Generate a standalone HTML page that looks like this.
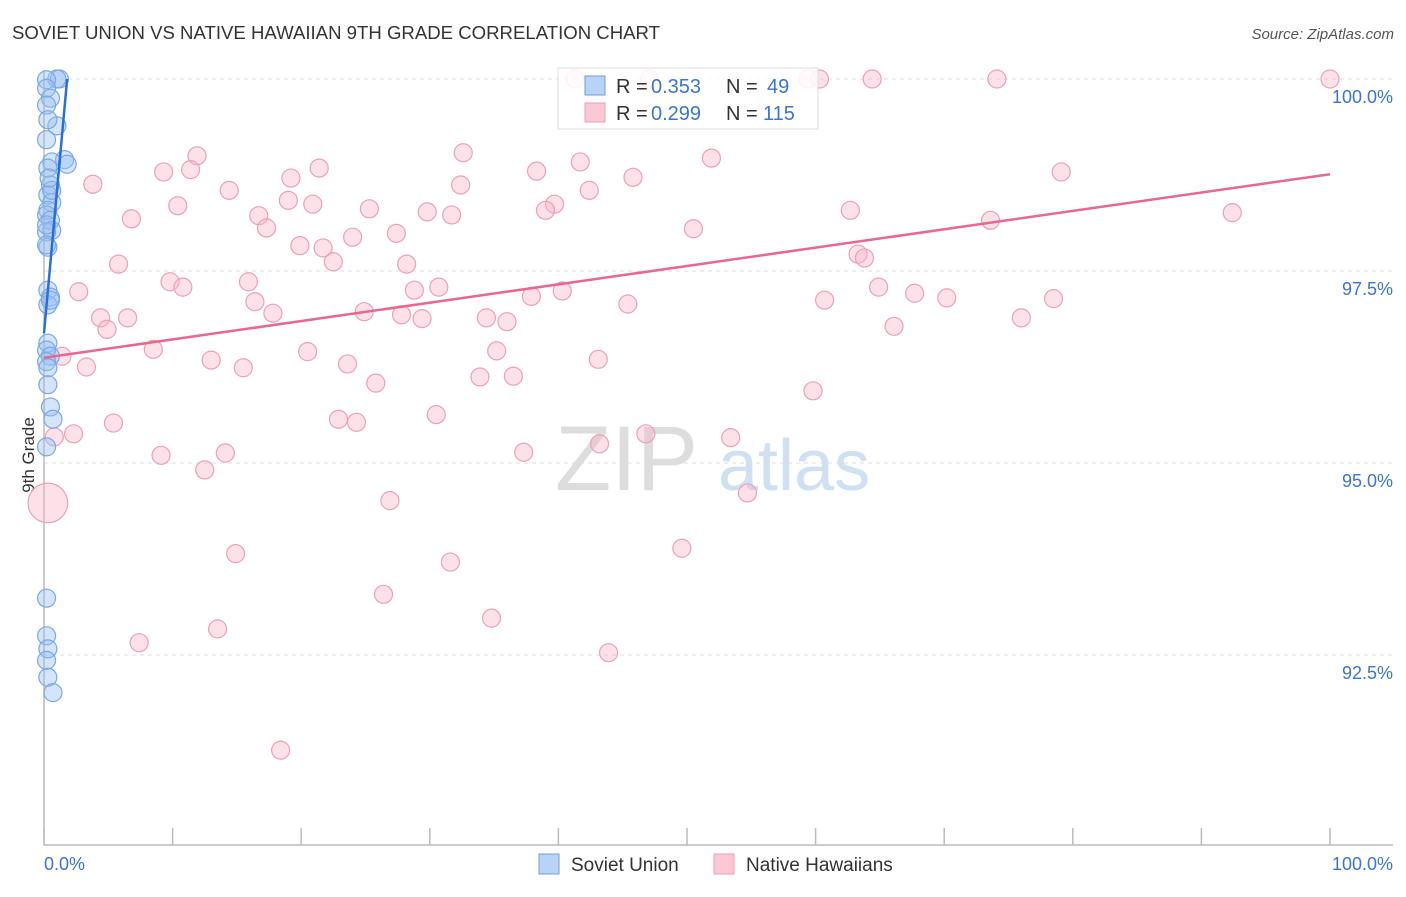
<!DOCTYPE html>
<html><head><meta charset="utf-8"><style>
body{margin:0;background:#fff;font-family:"Liberation Sans",sans-serif;}
svg text{font-family:"Liberation Sans",sans-serif;}
</style></head><body>
<svg id="chart" width="1406" height="892" xmlns="http://www.w3.org/2000/svg">
<text x="12" y="39" font-size="18" fill="#333" textLength="648" lengthAdjust="spacingAndGlyphs">SOVIET UNION VS NATIVE HAWAIIAN 9TH GRADE CORRELATION CHART</text>
<text x="1394" y="39" font-size="15" fill="#555" text-anchor="end" font-style="italic">Source: ZipAtlas.com</text>
<text transform="translate(34,455) rotate(-90)" font-size="17" fill="#333" text-anchor="middle">9th Grade</text>
<g><text x="555" y="490" font-size="92" fill="#ddd" font-family="Liberation Serif">ZIP</text><text x="718" y="490" font-size="72" fill="#cfe0f3">atlas</text></g>
<g id="grid"></g><g id="axes"></g><g id="pink"></g><g id="blue"></g><g id="lines"></g>
<g>
<rect x="558" y="68" width="260" height="61" fill="rgba(255,255,255,0.85)" stroke="#ddd"/>
<rect x="585" y="76" width="20" height="19" fill="#b8d3f5" stroke="#6a9ee0"/>
<text x="616" y="93" font-size="20" fill="#333">R =</text><text x="651" y="93" font-size="20" fill="#3a75d0">0.353</text>
<text x="726" y="93" font-size="20" fill="#333">N =</text><text x="767" y="93" font-size="20" fill="#3a75d0">49</text>
<rect x="585" y="103" width="20" height="19" fill="#fbc8d6" stroke="#eba0b8"/>
<text x="616" y="120" font-size="20" fill="#333">R =</text><text x="651" y="120" font-size="20" fill="#3a75d0">0.299</text>
<text x="726" y="120" font-size="20" fill="#333">N =</text><text x="763" y="120" font-size="20" fill="#3a75d0">115</text>
</g>
<g>
<rect x="539" y="854" width="20" height="20" fill="#b8d3f5" stroke="#6a9ee0"/><text x="571" y="871" font-size="19" fill="#333">Soviet Union</text>
<rect x="714" y="854" width="20" height="20" fill="#fbc8d6" stroke="#eba0b8"/><text x="746" y="871" font-size="19" fill="#333">Native Hawaiians</text>
</g>
</svg>
<script>
const yTicks=[100,97.5,95,92.5];
const yTickLabels=["100.0%","97.5%","95.0%","92.5%"];
const xTickLabels=["0.0%","100.0%"];
const pinkX=[41.3,47.1,59.4,60.3,64.4,74.1,100,11.9,32.6,51.9,41.7,21.4,9.3,11.4,38.3,79.1,3.8,19.2,32.4,45.8,14.4,42.4,19.0,10.4,20.9,39.7,25.3,29.8,39.0,31.7,62.7,92.4,6.8,16.7,17.3,27.4,50.5,73.6,24.0,19.9,21.7,22.5,63.3,63.8,5.8,28.2,9.8,15.9,10.8,2.7,28.8,30.7,64.9,40.3,37.9,67.7,70.2,78.5,16.4,60.7,45.4,24.9,17.8,4.4,6.5,27.8,29.4,34.4,36.0,4.9,66.1,76.0,8.5,20.5,35.2,1.4,43.1,3.3,13.0,15.5,23.6,25.8,33.9,36.5,59.8,30.5,5.4,22.9,24.3,0.8,2.3,37.3,43.2,46.8,53.4,9.1,14.1,12.5,54.7,26.9,14.9,31.6,49.6,26.4,13.5,7.4,34.8,43.9,18.4,0.3];
const pinkY=[100,100,100,100,100,100,100,99.0,99.04,98.97,98.92,98.84,98.79,98.82,98.80,98.79,98.63,98.71,98.62,98.72,98.55,98.55,98.42,98.35,98.37,98.37,98.31,98.27,98.29,98.23,98.29,98.26,98.18,98.22,98.06,97.99,98.05,98.16,97.94,97.83,97.80,97.62,97.72,97.67,97.59,97.59,97.36,97.36,97.29,97.23,97.25,97.29,97.29,97.24,97.17,97.21,97.15,97.14,97.10,97.12,97.07,96.97,96.95,96.89,96.89,96.93,96.88,96.89,96.84,96.74,96.78,96.89,96.48,96.45,96.46,96.39,96.35,96.25,96.34,96.24,96.29,96.04,96.12,96.13,95.94,95.63,95.52,95.57,95.53,95.34,95.38,95.14,95.25,95.38,95.33,95.10,95.13,94.91,94.61,94.51,93.82,93.71,93.89,93.29,92.84,92.66,92.98,92.53,91.26,94.48];
const pinkSize=pinkX.map((v,i)=>i===pinkX.length-1?2.2:1);
const blueX=[1.2,1.0,0.2,0.2,0.5,0.2,1.0,0.3,0.2,1.6,1.8,0.6,0.3,0.5,0.3,0.6,0.3,0.2,0.5,0.6,0.2,0.3,0.2,0.3,0.5,0.3,0.3,0.2,0.5,0.2,0.3,0.5,0.7,0.2,0.2,0.2,0.3,0.2,0.3,0.7,0.6,0.4,0.2,0.5,0.3];
const blueY=[100,100,99.99,99.88,99.75,99.66,99.39,99.47,99.21,98.95,98.89,98.92,98.84,98.62,98.49,98.39,98.29,98.23,98.16,98.03,98.01,97.81,97.84,97.25,97.16,97.06,96.56,96.47,96.39,96.32,96.24,95.73,95.57,95.21,93.24,92.75,92.58,92.43,92.21,92.01,98.55,98.71,98.10,97.12,96.02];
const blueTrend=[[0,96.69],[1.8,100]];
const pinkTrend=[[0,96.37],[100,98.76]];
const NS="http://www.w3.org/2000/svg";
const X=v=>44+v*12.86, Y=v=>79+(100-v)*76.8;
function mk(tag,attrs,parent){const e=document.createElementNS(NS,tag);for(const k in attrs)e.setAttribute(k,attrs[k]);document.getElementById(parent).appendChild(e);return e;}
yTicks.forEach((t,i)=>{
 const l=mk('line',{x1:44,x2:1393,y1:Y(t),y2:Y(t),stroke:'#ddd','stroke-dasharray':'4,4'},'grid');
 
 
 const tx=mk('text',{x:1393,y:Y(t)+24,'font-size':18,fill:'#3a75d0','text-anchor':'end'},'grid');tx.textContent=yTickLabels[i];
 
 
});
const ax=mk('path',{d:'M44 70V845H1393',fill:'none',stroke:'#bbb','stroke-width':1.5},'axes');


for(let i=0;i<=10;i++){const t=mk('line',{x1:X(i*10),x2:X(i*10),y1:828,y2:845,stroke:'#bbb','stroke-width':1.5},'axes');
 
 }
[[0,'start',44],[1,'end',1393]].forEach(([i,a,x])=>{const t=mk('text',{x:x,y:870,'font-size':18,fill:'#3a75d0','text-anchor':a},'axes');t.textContent=xTickLabels[i];
 
 });
pinkX.forEach((v,i)=>{const c=mk('circle',{cx:X(v),cy:Y(pinkY[i]),r:9*pinkSize[i],fill:'rgba(248,180,200,0.4)',stroke:'#eba0b8','stroke-width':1.2},'pink');
 
 });
blueX.forEach((v,i)=>{const c=mk('circle',{cx:X(v),cy:Y(blueY[i]),r:9,fill:'rgba(150,190,240,0.4)',stroke:'#7aa8e4','stroke-width':1.2},'blue');
 
 });
const bl=mk('line',{x1:X(blueTrend[0][0]),y1:Y(blueTrend[0][1]),x2:X(blueTrend[1][0]),y2:Y(blueTrend[1][1]),stroke:'#2a6fd6','stroke-width':2.5},'lines');


const pl=mk('line',{x1:X(pinkTrend[0][0]),y1:Y(pinkTrend[0][1]),x2:X(pinkTrend[1][0]),y2:Y(pinkTrend[1][1]),stroke:'#e8688f','stroke-width':2.5},'lines');


</script>
</body></html>
